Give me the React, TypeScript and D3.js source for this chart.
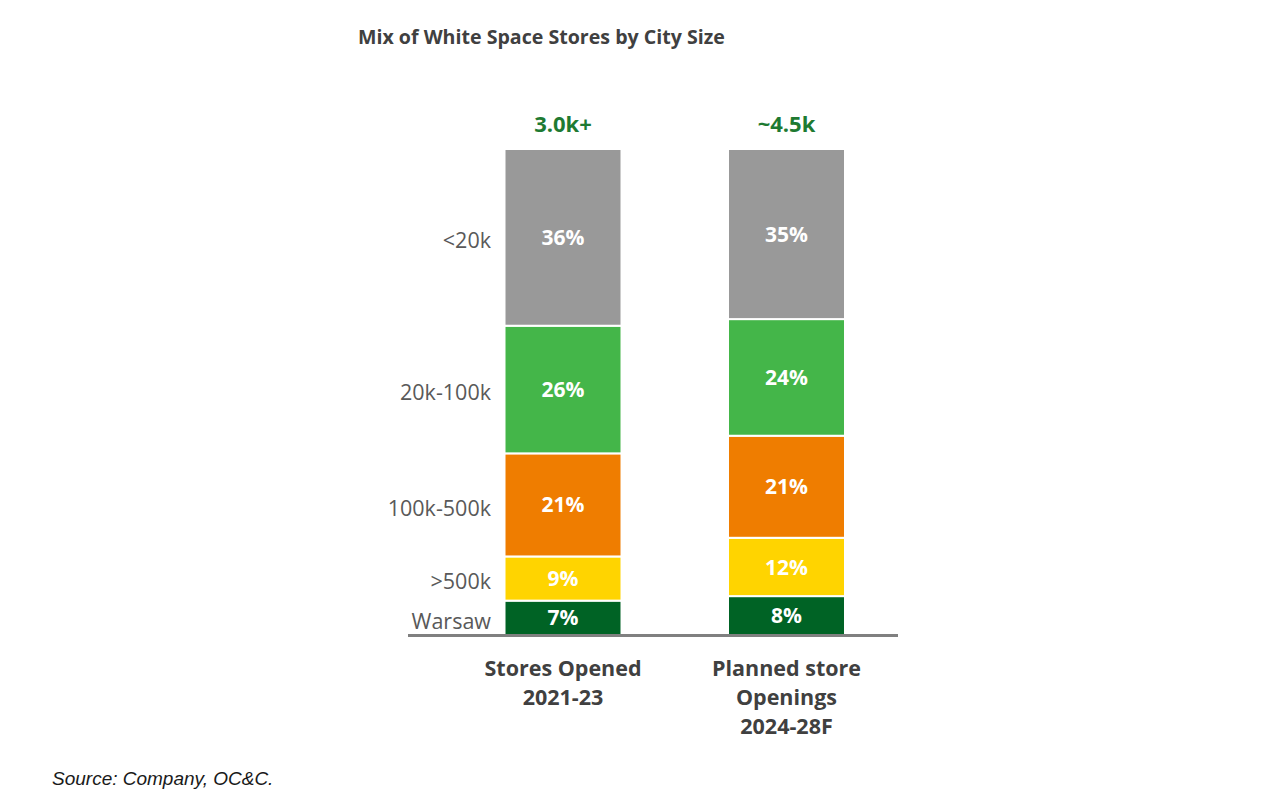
import React from "react";
import * as d3 from "d3";

const categories = ["Warsaw", ">500k", "100k-500k", "20k-100k", "<20k"];
const bars = ["Stores Opened\n2021-23", "Planned store\nOpenings\n2024-28F"];
const totals = ["3.0k+", "~4.5k"];
const opened = [7, 9, 21, 26, 36];
const planned = [8, 12, 21, 24, 35];
const colors = ["#006325", "#ffd400", "#ef7d00", "#44b649", "#999999"];

const W = 1280;
const H = 789;

export default function App() {
  const rows = bars.map((b, i) => {
    const vals = i === 0 ? opened : planned;
    const r: any = { bar: b };
    categories.forEach((c, j) => (r[c] = vals[j]));
    return r;
  });
  const stack = d3.stack<any>().keys(categories).offset(d3.stackOffsetExpand);
  const series = stack(rows);

  const x = d3.scaleBand<string>().domain(bars).range([447, 904]).paddingInner(0.49).paddingOuter(0);
  const y = d3.scaleLinear().domain([0, 1]).range([635, 149]);
  const bw = 117;
  const cx = (b: string) => (b === bars[0] ? 563 : 786.5);
  void x;

  const font = "'Open Sans', 'Noto Sans', sans-serif";

  return (
    <div style={{ position: "absolute", left: 0, top: 0 }}>
      <svg width={W} height={H} style={{ display: "block", background: "#fff" }}>
        <text x={358} y={44} fontFamily={font} fontWeight={700} fontSize={19.6} fill="#404040">
          Mix of White Space Stores by City Size
        </text>
        {bars.map((b, i) => (
          <text key={b} x={cx(b)} y={132} textAnchor="middle" fontFamily={font} fontWeight={700} fontSize={22} fill="#1e7a32">
            {totals[i]}
          </text>
        ))}
        {series.map((s, j) => (
          <g key={s.key}>
            {s.map((d, i) => {
              const b = bars[i];
              const y0 = y(d[0]);
              const y1 = y(d[1]);
              return (
                <g key={b}>
                  <rect x={cx(b) - bw / 2} y={y1} width={bw} height={y0 - y1} fill={colors[j]} stroke="#fff" strokeWidth={2} />
                  <text x={cx(b)} y={(y0 + y1) / 2} dy="0.36em" textAnchor="middle" fontFamily={font} fontWeight={700} fontSize={21} fill="#fff">
                    {(i === 0 ? opened : planned)[j]}%
                  </text>
                </g>
              );
            })}
            <text
              x={491}
              y={(y(s[0][0]) + y(s[0][1])) / 2 + 3}
              dy="0.36em"
              textAnchor="end"
              fontFamily={font}
              fontSize={21.5}
              fill="#595959"
            >
              {s.key}
            </text>
          </g>
        ))}
        <line x1={408} x2={898} y1={635.5} y2={635.5} stroke="#808080" strokeWidth={3} />
        {bars.map((b) => (
          <text key={b} textAnchor="middle" fontFamily={font} fontWeight={700} fontSize={21.5} fill="#404040">
            {b.split("\n").map((l, k) => (
              <tspan key={k} x={cx(b)} y={676 + k * 29}>
                {l}
              </tspan>
            ))}
          </text>
        ))}
        <text x={52} y={785} fontFamily="'Liberation Sans', Arial, sans-serif" fontStyle="italic" fontSize={19} fill="#1a1a1a">
          Source: Company, OC&amp;C.
        </text>
      </svg>
    </div>
  );
}
